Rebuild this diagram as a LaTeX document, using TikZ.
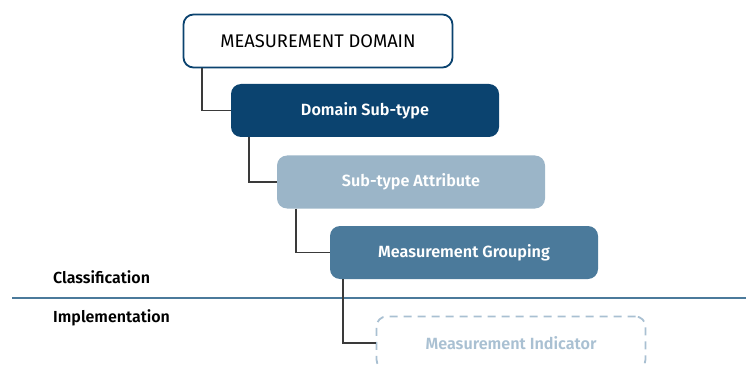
\documentclass[tikz,border=0pt]{standalone}
\usepackage{fontspec}
\setmainfont{Fira Sans}[BoldFont={Fira Sans SemiBold}]
\definecolor{navy}{HTML}{0B436F}
\definecolor{paleblue}{HTML}{9BB5C8}
\definecolor{steel}{HTML}{4B7A9B}
\definecolor{ghost}{HTML}{A9C0D2}
\definecolor{linkgray}{HTML}{3A3A3A}
\tikzset{
  level/.style={rounded corners=10pt, minimum width=268pt, minimum height=53pt,
    font=\fontsize{16.2}{18}\selectfont\bfseries, text=white, inner sep=0pt},
  link/.style={draw=linkgray, line width=1.2pt},
  tag/.style={font=\fontsize{16}{18}\selectfont\bfseries, anchor=west, inner sep=0pt},
}
\begin{document}
\begin{tikzpicture}[x=1pt, y=-1pt]
  \useasboundingbox (0,0) rectangle (746,366);

  % classification / implementation divider
  \draw[steel, line width=1.3pt] (12,298) -- (746,298);
  \node[tag] (cls) at (53,277) {Classification};
  \node[tag] (imp) at (53,318) {Implementation};

  % hierarchy levels
  \node[level, draw=navy, line width=1.8pt, fill=white, text=black,
        font=\fontsize{18.3}{20}\selectfont, minimum width=269pt, minimum height=53pt]
        (dom) at (318,41) {MEASUREMENT DOMAIN};
  \node[level, fill=navy] (sub) at (365,110.5) {Domain Sub-type};
  \node[level, fill=paleblue] (att) at (411,182) {Sub-type Attribute};
  \node[level, fill=steel] (grp) at (464,252.5) {Measurement Grouping};
  \node[level, draw=ghost, line width=1.8pt, dash pattern=on 8pt off 6pt,
        text=ghost, minimum width=269pt] (ind) at (511,343) {Measurement Indicator};

  % elbow connectors
  \draw[link] (dom.south west -| 202,0) -- (202,0 |- sub.west) -- (sub.west);
  \draw[link] (sub.south west -| 249,0) -- (249,0 |- att.west) -- (att.west);
  \draw[link] (att.south west -| 296,0) -- (296,0 |- grp.west) -- (grp.west);
  \draw[link] (grp.south west -| 343,0) -- (343,0 |- ind.west) -- (ind.west);
\end{tikzpicture}
\end{document}
